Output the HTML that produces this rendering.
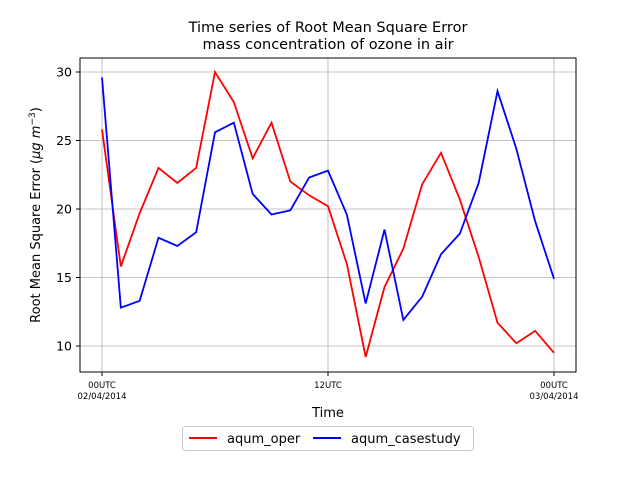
<!DOCTYPE html>
<html><head><meta charset="utf-8"><style>
body{margin:0;background:#fff;font-family:"DejaVu Sans","Liberation Sans",sans-serif}
</style></head><body>
<svg width="640" height="480" xmlns="http://www.w3.org/2000/svg" font-family="DejaVu Sans, Liberation Sans, sans-serif">
<text x="328" y="32" text-anchor="middle" font-size="14.5">Time series of Root Mean Square Error</text>
<text x="328" y="49" text-anchor="middle" font-size="14.5">mass concentration of ozone in air</text>
<g id="grid"></g>
<g id="series"></g>
<rect x="80" y="58" width="496" height="314" fill="none" stroke="#000" stroke-width="1"/>
<g id="axes" font-size="12.5"></g>
<text x="328" y="417" text-anchor="middle" font-size="13">Time</text>
<text transform="translate(40,215) rotate(-90)" text-anchor="middle" font-size="13">Root Mean Square Error (<tspan font-style="italic">μg m</tspan><tspan font-size="9" dy="-5">−3</tspan><tspan dy="5">)</tspan></text>
<g>
<rect x="182.5" y="426.5" width="291" height="24" rx="3" fill="#fff" stroke="#ccc"/>
<line x1="189" y1="438" x2="217" y2="438" stroke="red" stroke-width="2"/>
<text x="227" y="443" font-size="13">aqum_oper</text>
<line x1="313" y1="438" x2="341" y2="438" stroke="blue" stroke-width="2"/>
<text x="351" y="443" font-size="13">aqum_casestudy</text>
</g>
</svg>
<script>
const hours=[0,1,2,3,4,5,6,7,8,9,10,11,12,13,14,15,16,17,18,19,20,21,22,23,24];
const operValues=[25.8,15.8,19.7,23.0,21.9,23.0,30.0,27.8,23.7,26.3,22.0,21.0,20.2,16.0,9.2,14.3,17.1,21.8,24.1,20.7,16.5,11.7,10.2,11.1,9.5];
const caseValues=[29.6,12.8,13.3,17.9,17.3,18.3,25.6,26.3,21.1,19.6,19.9,22.3,22.8,19.6,13.1,18.5,11.9,13.6,16.7,18.2,21.9,28.6,24.4,19.1,14.9];
const yTicks=[10,15,20,25,30];
const xTickHours=[0,12,24];
const xTickLabels=[["00UTC","02/04/2014"],["12UTC",""],["00UTC","03/04/2014"]];
const NS="http://www.w3.org/2000/svg";
function xs(h){return 102+h*(554-102)/24;}
function ys(v){return 72+(30-v)*13.7;}
const grid=document.getElementById('grid'),axes=document.getElementById('axes'),ser=document.getElementById('series');
function mk(tag,attrs,parent){const e=document.createElementNS(NS,tag);for(const k in attrs)e.setAttribute(k,attrs[k]);parent.appendChild(e);return e;}
yTicks.forEach(v=>{
 const y=ys(v);
 const g=mk('line',{x1:80,x2:576,y1:y,y2:y,stroke:'#b0b0b0','stroke-width':0.8},grid);
 
 
 mk('line',{x1:76,x2:80,y1:y,y2:y,stroke:'#000'},axes);
 const t=mk('text',{x:72,y:y+4.5,'text-anchor':'end'},axes);t.textContent=v;
 
 
});
xTickHours.forEach((h,i)=>{
 const x=xs(h);
 const g=mk('line',{x1:x,x2:x,y1:58,y2:372,stroke:'#b0b0b0','stroke-width':0.8},grid);
 
 
 mk('line',{x1:x,x2:x,y1:372,y2:376,stroke:'#000'},axes);
 xTickLabels[i].forEach((s,j)=>{if(!s)return;
  const t=mk('text',{x:x,y:388+j*11,'text-anchor':'middle','font-size':8.5},axes);t.textContent=s;
  
  
 });
});
function line(vals,color,name){
 const p=mk('polyline',{points:vals.map((v,i)=>xs(hours[i])+','+ys(v)).join(' '),fill:'none',stroke:color,'stroke-width':1.8},ser);
 
 
}
line(operValues,'red','series-aqum-oper');
line(caseValues,'blue','series-aqum-casestudy');
</script>
</body></html>
